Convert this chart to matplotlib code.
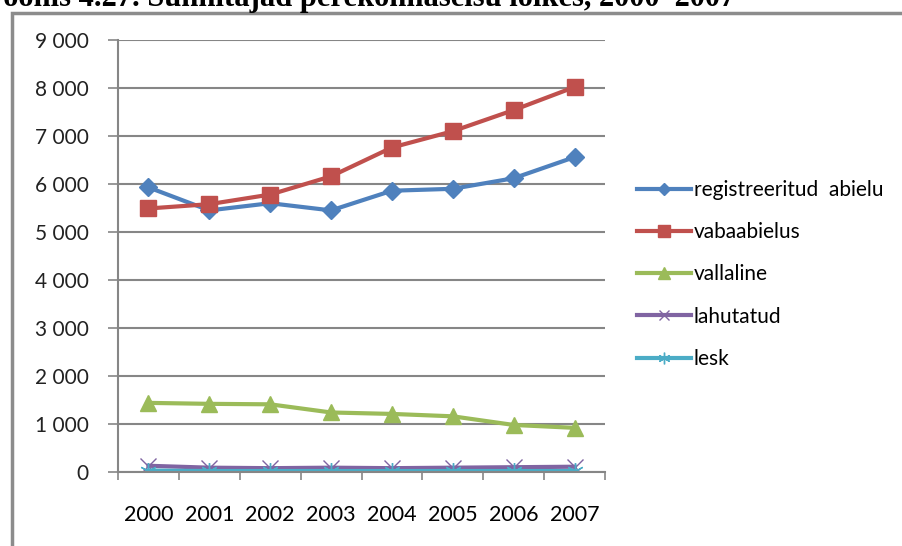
import matplotlib.pyplot as plt
import numpy as np
from matplotlib.patches import Rectangle

years = ['2000', '2001', '2002', '2003', '2004', '2005', '2006', '2007']
registreeritud = [5930, 5450, 5600, 5450, 5860, 5900, 6120, 6560]
vabaabielus = [5490, 5580, 5780, 6160, 6760, 7100, 7540, 8020]
vallaline = [1440, 1420, 1410, 1240, 1210, 1160, 980, 920]
lahutatud = [130, 90, 80, 90, 80, 90, 100, 110]
lesk = [30, 20, 20, 20, 20, 20, 20, 20]
yticks = [0, 1000, 2000, 3000, 4000, 5000, 6000, 7000, 8000, 9000]
ylabels = ['0', '1 000', '2 000', '3 000', '4 000', '5 000', '6 000', '7 000', '8 000', '9 000']

plt.rcParams['font.family'] = ['Lato', 'DejaVu Sans']

fig = plt.figure(figsize=(9.02, 5.46), dpi=100)

# outer frame (cut by the image edge on the right and bottom)
fig.patches.append(Rectangle((12 / 902, -0.1), 1.0, (546 - 13) / 546 + 0.1,
                             transform=fig.transFigure, fill=False,
                             edgecolor='#8c8c8c', linewidth=2.5))

# clipped caption at the top
fig.text(-12 / 902, 1 - 6 / 546, 'Joonis 4.27. Sünnitajad perekonnaseisu lõikes, 2000\u20132007',
         family='Liberation Serif', fontweight='bold', fontsize=22, va='baseline', ha='left')

ax = fig.add_axes([118 / 902, 1 - 472 / 546, (605 - 118) / 902, (472 - 40) / 546])

x = np.arange(len(years))
ax.plot(x, registreeritud, color='#4F81BD', lw=3, marker='D', ms=9, label='registreeritud  abielu')
ax.plot(x, vabaabielus, color='#C0504D', lw=3, marker='s', ms=12, label='vabaabielus')
ax.plot(x, vallaline, color='#9BBB59', lw=3, marker='^', ms=12, label='vallaline')
ax.plot(x, lahutatud, color='#8064A2', lw=3, marker='x', ms=11, mew=1, label='lahutatud')
ax.plot(x, lesk, color='#4BACC6', lw=3, marker=(6, 2, 0), ms=12, mew=1, label='lesk')

ax.set_xlim(-0.5, len(years) - 0.5)
ax.set_ylim(0, 9000)
ax.set_yticks(yticks)
ax.set_yticklabels(ylabels)
ax.set_xticks(x)
ax.set_xticklabels(years)
ax.set_xticks(np.arange(-0.5, len(years)), minor=True)
ax.tick_params(axis='x', which='major', length=0, pad=24, labelsize=15.5)
ax.tick_params(axis='x', which='minor', length=6, color='#868686', width=1.2, direction='out')
ax.tick_params(axis='y', length=7, color='#868686', width=1.2, pad=14, labelsize=15,
               labelcolor='#222222')
ax.grid(axis='y', color='#868686', lw=1.5)
ax.set_axisbelow(True)
for s in ['top', 'right']:
    ax.spines[s].set_visible(False)
for s in ['left', 'bottom']:
    ax.spines[s].set_color('#868686')
    ax.spines[s].set_linewidth(1.5)

ax.legend(loc='upper left', bbox_to_anchor=(1.035, 0.71), frameon=False, fontsize=15,
          handlelength=2.6, labelspacing=1.07, handletextpad=0.15, markerscale=0.7,
          borderpad=0.2)

fig.savefig('out.png', dpi=100)
